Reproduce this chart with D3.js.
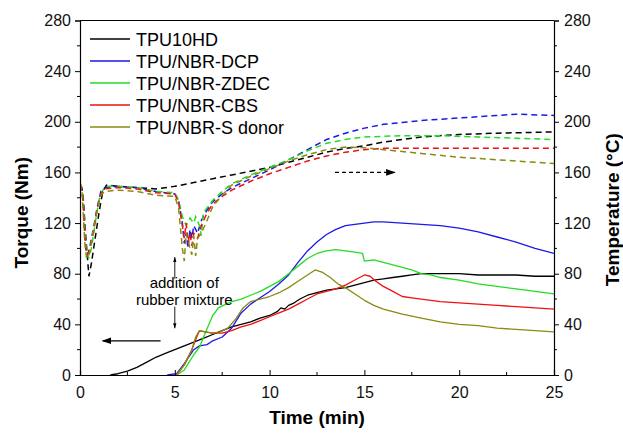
<!DOCTYPE html>
<html>
<head>
<meta charset="utf-8">
<script src="https://cdn.jsdelivr.net/npm/d3@7"></script>
<style>
  body { margin: 0; background: #fff; }
  svg { font-family: "Liberation Sans", Arial, sans-serif; }
</style>
</head>
<body>
<div id="chart"></div>
<script>
// series names / colours
const seriesNames = ['TPU10HD', 'TPU/NBR-DCP', 'TPU/NBR-ZDEC', 'TPU/NBR-CBS', 'TPU/NBR-S donor'];
const seriesColors = ['#000000', '#1a1ae6', '#22dd22', '#ee1111', '#8a8a12'];
const xTicks = [0, 5, 10, 15, 20, 25];
const yTicks = [0, 40, 80, 120, 160, 200, 240, 280];

// torque (Nm), solid lines  [time, value]
const torqueBlack = [[1.6,0],[2,1],[2.5,3],[3,6],[3.5,10],[4,14],[4.5,17],[5,20],[5.5,23],[6,26],[6.5,29],[7,32],[7.5,35],[8,38],[8.5,40],[9,42],[9.5,45],[10,47],[10.4,50],[10.6,53],[10.8,52],[11,55],[11.3,57],[11.6,60],[12,63],[12.5,65],[13,67],[13.5,68],[14,69],[14.5,71],[15,73],[15.5,75],[16,76],[16.5,77],[17,78],[17.5,79],[18,80],[19,80],[20,80],[21,79],[22,79],[23,79],[24,78],[25,78]];
const torqueBlue = [[4.6,0],[5.1,1],[5.5,9],[6,20],[6.3,23],[6.7,24],[7,27],[7.5,30],[8,37],[8.5,49],[9,56],[9.5,61],[10,66],[10.5,72],[11,79],[11.5,89],[12,98],[12.5,105],[13,111],[13.5,115],[14,118],[14.5,119],[15,120],[15.5,121],[16,121],[17,120],[18,119],[19,118],[20,116],[21,113],[22,109],[23,105],[24,100],[25,96]];
const torqueGreen = [[5.1,0],[5.5,4],[6,16],[6.3,22],[6.6,33],[7,47],[7.3,53],[7.7,56],[8,58],[8.5,60],[9,63],[9.5,66],[10,70],[10.5,74],[11,80],[11.5,86],[12,92],[12.5,96],[13,98],[13.5,99],[14,98],[14.5,97],[14.9,96],[15,90],[15.5,91],[16,89],[16.5,87],[17,85],[17.5,83],[18,80],[18.5,79],[19,77],[20,75],[21,72],[22,70],[23,68],[24,66],[25,64]];
const torqueRed = [[5.1,0],[5.5,8],[5.9,20],[6.1,28],[6.3,35],[6.6,34],[7,33],[7.5,33],[8,35],[8.5,38],[9,40],[9.5,43],[10,46],[10.5,49],[11,52],[11.5,56],[12,60],[12.5,64],[13,66],[13.5,68],[14,71],[14.5,75],[15,79],[15.3,78],[15.6,74],[16,70],[16.5,66],[17,62],[17.5,61],[18,60],[18.5,59],[19,58],[20,57],[21,56],[22,55],[23,54],[24,53],[25,52]];
const torqueOlive = [[5.1,0],[5.5,8],[5.9,20],[6.1,30],[6.3,35],[6.6,34],[7,33],[7.4,34],[7.8,37],[8.2,44],[8.6,53],[9,58],[9.5,60],[10,62],[10.5,65],[11,69],[11.5,74],[12,79],[12.4,83],[12.8,81],[13.2,77],[13.6,72],[14,69],[14.5,64],[15,59],[15.5,55],[16,52],[17,48],[18,45],[19,42],[20,40],[21,39],[22,37],[23,36],[24,35],[25,34]];

// temperature (°C), dashed lines  [time, value]
const tempBlack = [[0,150],[0.15,145],[0.3,110],[0.47,78],[0.6,88],[0.8,108],[1.0,128],[1.2,145],[1.4,150],[2,149],[3,148],[4,147],[5,149],[6,152],[7,155],[8,158],[9,161],[10,164],[11,168],[12,172],[13,176],[14,179],[15,181],[16,184],[17,186],[18,188],[20,190],[22,191],[25,192]];
const tempBlue = [[0,150],[0.1,148],[0.2,130],[0.3,100],[0.4,95],[0.5,100],[0.7,115],[0.9,132],[1.1,145],[1.3,148],[2,149],[3,148],[4,145],[5,143],[5.2,138],[5.4,120],[5.5,104],[5.6,112],[5.7,100],[5.8,115],[5.9,108],[6.0,118],[6.2,112],[6.4,122],[6.6,128],[7,137],[7.5,143],[8,148],[9,155],[10,162],[11,170],[12,178],[13,186],[14,191],[15,195],[16,198],[18,201],[20,203],[22,205],[23,206],[25,205]];
const tempGreen = [[0,150],[0.15,142],[0.3,105],[0.45,92],[0.6,100],[0.8,120],[1.0,138],[1.2,146],[1.4,149],[2,149],[3,148],[4,145],[5,144],[5.2,138],[5.4,125],[5.6,118],[5.8,124],[6.0,120],[6.1,125],[6.3,118],[6.4,110],[6.5,128],[6.7,132],[7,138],[7.5,145],[8,151],[9,158],[10,164],[11,170],[12,177],[13,183],[14,186],[15,188],[17,189],[19,189],[21,188],[23,187],[25,186]];
const tempRed = [[0,150],[0.15,140],[0.25,110],[0.35,95],[0.5,98],[0.7,112],[0.9,130],[1.1,143],[1.3,147],[2,148],[3,147],[4,144],[5,143],[5.2,136],[5.4,118],[5.5,108],[5.6,120],[5.7,105],[5.8,112],[5.9,102],[6.0,112],[6.2,108],[6.4,118],[6.7,128],[7,135],[7.5,141],[8,146],[9,153],[10,159],[11,164],[12,169],[13,173],[14,176],[15,178],[16,179],[18,179],[25,179]];
const tempOlive = [[0,152],[0.1,148],[0.25,105],[0.35,92],[0.5,96],[0.7,114],[0.9,130],[1.1,142],[1.3,145],[2,146],[3,145],[4,142],[5,141],[5.2,132],[5.4,100],[5.5,90],[5.6,112],[5.8,100],[5.9,95],[6.0,110],[6.1,94],[6.2,108],[6.4,112],[6.7,122],[7,133],[7.5,142],[8,150],[9,157],[10,163],[11,169],[12,174],[13,178],[14,180],[15,179.5],[16,178],[18,175],[20,172],[22,170],[25,167]];

const torque = [torqueBlack, torqueBlue, torqueGreen, torqueRed, torqueOlive];
const temp = [tempBlack, tempBlue, tempGreen, tempRed, tempOlive];

const W = 623, H = 435;
const margin = {left: 80, right: 69, top: 20.5, bottom: 60};

const x = d3.scaleLinear().domain([0, 25]).range([margin.left, W - margin.right]);
const y = d3.scaleLinear().domain([0, 280]).range([H - margin.bottom, margin.top]);
const y2 = d3.scaleLinear().domain([0, 280]).range([H - margin.bottom, margin.top]);

const svg = d3.select('#chart').append('svg')
  .attr('width', W).attr('height', H);

const defs = svg.append('defs');
defs.append('marker').attr('id', 'head')
  .attr('viewBox', '0 0 10 10').attr('refX', 9).attr('refY', 5)
  .attr('markerWidth', 8).attr('markerHeight', 8).attr('orient', 'auto')
  .append('path').attr('d', 'M0,1.5L10,5L0,8.5z').attr('fill', '#000');
defs.append('marker').attr('id', 'small')
  .attr('viewBox', '0 0 10 10').attr('refX', 9).attr('refY', 5)
  .attr('markerWidth', 6).attr('markerHeight', 6).attr('orient', 'auto')
  .append('path').attr('d', 'M0,2L10,5L0,8z').attr('fill', '#000');

const clip = defs.append('clipPath').attr('id', 'plot');
clip.append('rect').attr('x', x(0)).attr('y', y(280))
  .attr('width', x(25) - x(0)).attr('height', y(0) - y(280));

const line = d3.line().x(d => x(d[0])).y(d => y(d[1]));
const line2 = d3.line().x(d => x(d[0])).y(d => y2(d[1]));

const plot = svg.append('g').attr('clip-path', 'url(#plot)');

// temperature dashed
temp.forEach((d, i) => {
  plot.append('path').attr('d', line2(d))
    .attr('fill', 'none').attr('stroke', seriesColors[i])
    .attr('stroke-width', 1.5).attr('stroke-dasharray', '6,4');
});
// torque solid
torque.forEach((d, i) => {
  plot.append('path').attr('d', line(d))
    .attr('fill', 'none').attr('stroke', seriesColors[i])
    .attr('stroke-width', 1.3).attr('stroke-linejoin', 'round');
});

// axes
const xAxis = d3.axisBottom(x).tickValues(xTicks).tickSize(-5).tickPadding(12).tickFormat(d3.format('d'));
const gx = svg.append('g').attr('transform', `translate(0,${y(0)})`).call(xAxis);
gx.selectAll('.minor').data(d3.range(2.5, 25, 5)).enter().append('line')
  .attr('x1', d => x(d)).attr('x2', d => x(d)).attr('y1', 0).attr('y2', -3).attr('stroke', '#000');

const yAxis = d3.axisLeft(y).tickValues(yTicks).tickSize(5).tickPadding(4);
const gy = svg.append('g').attr('transform', `translate(${x(0)},0)`).call(yAxis);
const yAxisR = d3.axisRight(y2).tickValues(yTicks).tickSize(5).tickPadding(5);
const gy2 = svg.append('g').attr('transform', `translate(${x(25)},0)`).call(yAxisR);

[gy, gy2].forEach((g, k) => {
  g.selectAll('.minor').data(d3.range(20, 280, 40)).enter().append('line')
    .attr('x1', 0).attr('x2', k ? 3 : -3)
    .attr('y1', d => y(d)).attr('y2', d => y(d)).attr('stroke', '#000');
});

// top border
svg.append('line').attr('x1', x(0)).attr('x2', x(25)).attr('y1', y(280)).attr('y2', y(280))
  .attr('stroke', '#000').attr('stroke-width', 1.2);

svg.selectAll('.domain').attr('stroke-width', 1.2);
svg.selectAll('.tick text').attr('font-size', 16).attr('fill', '#111')
  .attr('font-family', '"Liberation Sans", Arial, sans-serif');

// axis titles
svg.append('text').attr('x', x(12.5)).attr('y', 424).attr('text-anchor', 'middle')
  .attr('font-size', 19).attr('font-weight', 'bold').text('Time (min)');
svg.append('text').attr('transform', `translate(28,${y(140) + 15}) rotate(-90)`)
  .attr('text-anchor', 'middle').attr('font-size', 19).attr('font-weight', 'bold').text('Torque (Nm)');
svg.append('text').attr('transform', `translate(619,${y(140) + 12}) rotate(-90)`)
  .attr('text-anchor', 'middle').attr('font-size', 19).attr('font-weight', 'bold').text('Temperature (°C)');

// legend
const legend = svg.append('g');
seriesNames.forEach((n, i) => {
  const ly = 39 + i * 22;
  legend.append('line').attr('x1', 90).attr('x2', 130).attr('y1', ly).attr('y2', ly)
    .attr('stroke', seriesColors[i]).attr('stroke-width', 1.5);
  legend.append('text').attr('x', 136).attr('y', ly + 6.5).attr('font-size', 18).text(n);
});

// annotations
svg.append('line').attr('x1', x(4.25)).attr('x2', x(1.2)).attr('y1', y(27)).attr('y2', y(27))
  .attr('stroke', '#000').attr('stroke-width', 1.2).attr('marker-end', 'url(#head)');
svg.append('line').attr('x1', x(13.45)).attr('x2', x(16.6)).attr('y1', y2(160)).attr('y2', y2(160))
  .attr('stroke', '#000').attr('stroke-width', 1.2).attr('stroke-dasharray', '4,3').attr('marker-end', 'url(#head)');
svg.append('line').attr('x1', x(5)).attr('x2', x(5)).attr('y1', y(76)).attr('y2', y(93))
  .attr('stroke', '#000').attr('stroke-width', 0.9).attr('marker-end', 'url(#small)');
svg.append('line').attr('x1', x(5)).attr('x2', x(5)).attr('y1', y(54)).attr('y2', y(37))
  .attr('stroke', '#000').attr('stroke-width', 0.9).attr('marker-end', 'url(#small)');
svg.append('text').attr('x', x(5.5)).attr('y', y(69)).attr('text-anchor', 'middle')
  .attr('font-size', 15).text('addition of');
svg.append('text').attr('x', x(5.5)).attr('y', y(55)).attr('text-anchor', 'middle')
  .attr('font-size', 15).text('rubber mixture');
</script>
</body>
</html>
